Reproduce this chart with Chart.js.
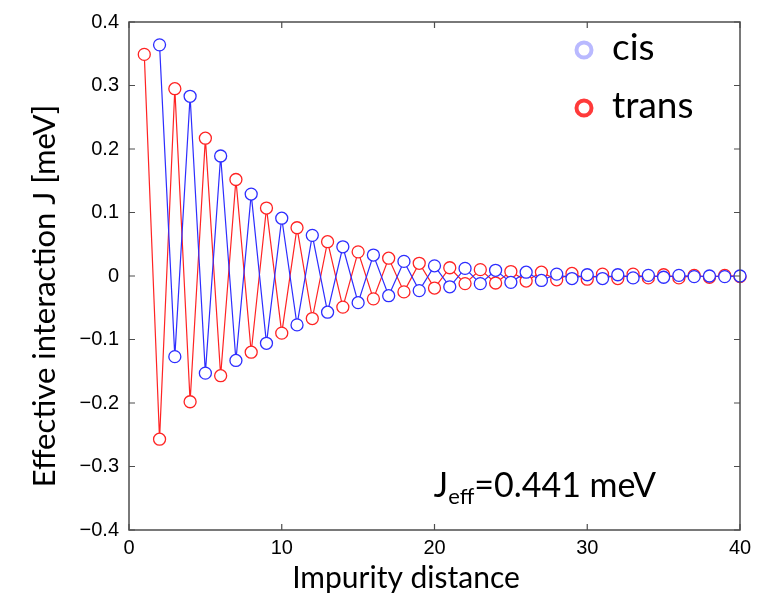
<!DOCTYPE html>
<html>
<head>
<meta charset="utf-8">
<title>Effective interaction vs impurity distance</title>
<script src="https://cdn.jsdelivr.net/npm/chart.js@4.4.1/dist/chart.umd.min.js"></script>
<style>
  html, body { margin: 0; padding: 0; background: #fff; }
  canvas { display: block; }
</style>
</head>
<body>
<canvas id="chart" width="767" height="601"></canvas>
<script>
// impurity distances (trans starts at 1, cis at 2)
const transDistance = [1, 2, 3, 4, 5, 6, 7, 8, 9, 10, 11, 12, 13, 14, 15, 16, 17, 18, 19, 20,
  21, 22, 23, 24, 25, 26, 27, 28, 29, 30, 31, 32, 33, 34, 35, 36, 37, 38, 39, 40];
const cisDistance = [2, 3, 4, 5, 6, 7, 8, 9, 10, 11, 12, 13, 14, 15, 16, 17, 18, 19, 20,
  21, 22, 23, 24, 25, 26, 27, 28, 29, 30, 31, 32, 33, 34, 35, 36, 37, 38, 39, 40];

// effective interaction J in meV
const transJ = [0.349, -0.257, 0.295, -0.198, 0.217, -0.157, 0.152, -0.120, 0.107, -0.090,
  0.076, -0.067, 0.054, -0.049, 0.038, -0.036, 0.028, -0.025, 0.020, -0.019,
  0.013, -0.012, 0.010, -0.011, 0.007, -0.008, 0.006, -0.006, 0.004, -0.005,
  0.003, -0.004, 0.003, -0.003, 0.002, -0.003, 0.001, -0.002, 0.001, -0.001];
const cisJ = [0.364, -0.127, 0.283, -0.153, 0.189, -0.133, 0.129, -0.106, 0.091,
  -0.077, 0.064, -0.057, 0.046, -0.042, 0.033, -0.031, 0.023, -0.023, 0.016,
  -0.017, 0.012, -0.012, 0.009, -0.010, 0.006, -0.007, 0.003, -0.004, 0.002,
  -0.004, 0.002, -0.003, 0.001, -0.002, 0.001, -0.001, 0.000, -0.001, 0.000];

const xTicks = [0, 10, 20, 30, 40];
const yTicks = [-0.4, -0.3, -0.2, -0.1, 0, 0.1, 0.2, 0.3, 0.4];

const xTitle = 'Impurity distance';
const yTitle = 'Effective interaction J [meV]';

const CIS_LINE = 'rgb(45,45,255)';
const TRANS_LINE = 'rgb(255,35,35)';

function toPoints(xs, ys) {
  return xs.map((x, i) => ({ x: x, y: ys[i] }));
}

function fmtTick(v) {
  if (Math.abs(v) < 1e-9) return '0';
  const s = Math.abs(v).toFixed(1);
  return v < 0 ? '\u2212' + s : s;
}

// matlab-like box with inward ticks, axis titles, legend and J_eff note
const framePlugin = {
  id: 'frame',
  afterDraw(chart) {
    const { ctx, chartArea: a, scales } = chart;
    const tick = 6;
    ctx.save();
    ctx.strokeStyle = '#4d4d4d';
    ctx.lineWidth = 1.5;
    ctx.strokeRect(a.left, a.top, a.right - a.left, a.bottom - a.top);
    ctx.lineWidth = 1.2;
    ctx.beginPath();
    xTicks.forEach(v => {
      const px = scales.x.getPixelForValue(v);
      ctx.moveTo(px, a.bottom); ctx.lineTo(px, a.bottom - tick);
      ctx.moveTo(px, a.top); ctx.lineTo(px, a.top + tick);
    });
    yTicks.forEach(v => {
      const py = scales.y.getPixelForValue(v);
      ctx.moveTo(a.left, py); ctx.lineTo(a.left + tick, py);
      ctx.moveTo(a.right, py); ctx.lineTo(a.right - tick, py);
    });
    ctx.stroke();

    // axis titles
    ctx.fillStyle = '#000';
    ctx.textAlign = 'center';
    ctx.textBaseline = 'middle';
    ctx.font = '30px Lato';
    ctx.fillText(xTitle, 406, 578);
    ctx.save();
    ctx.translate(45, 296);
    ctx.rotate(-Math.PI / 2);
    ctx.font = '31px Lato';
    ctx.fillText(yTitle, 0, 0);
    ctx.restore();

    // legend
    const items = [
      { label: chart.data.datasets[0].label, color: '#b9b9ff', y: 50 },
      { label: chart.data.datasets[1].label, color: '#ff3a3a', y: 108 }
    ];
    ctx.textAlign = 'left';
    ctx.font = '37px Lato';
    items.forEach(it => {
      ctx.beginPath();
      ctx.lineWidth = 4;
      ctx.strokeStyle = it.color;
      ctx.arc(584, it.y, 7.5, 0, Math.PI * 2);
      ctx.stroke();
      ctx.fillStyle = '#000';
      ctx.fillText(it.label, 612, it.y - 2);
    });

    // J_eff annotation, right edge near x = 656
    ctx.textBaseline = 'alphabetic';
    const base = 497;
    const big = '34px Lato', small = '22px Lato';
    ctx.font = big;
    const wJ = ctx.measureText('J').width;
    const wRest = ctx.measureText('=0.441 meV').width;
    ctx.font = small;
    const wSub = ctx.measureText('eff').width;
    let x = 656 - (wJ + wSub + wRest);
    ctx.font = big;
    ctx.fillText('J', x, base);
    x += wJ;
    ctx.font = small;
    ctx.fillText('eff', x, base + 7);
    x += wSub;
    ctx.font = big;
    ctx.fillText('=0.441 meV', x, base);
    ctx.restore();
  }
};

new Chart(document.getElementById('chart'), {
  type: 'scatter',
  data: {
    datasets: [
      {
        label: 'cis',
        data: toPoints(cisDistance, cisJ),
        showLine: true,
        borderColor: CIS_LINE,
        borderWidth: 1.2,
        pointRadius: 6,
        pointBorderWidth: 1.3,
        pointBorderColor: CIS_LINE,
        pointBackgroundColor: '#fff',
        clip: false,
        order: 0
      },
      {
        label: 'trans',
        data: toPoints(transDistance, transJ),
        showLine: true,
        borderColor: TRANS_LINE,
        borderWidth: 1.2,
        pointRadius: 6,
        pointBorderWidth: 1.3,
        pointBorderColor: TRANS_LINE,
        pointBackgroundColor: '#fff',
        clip: false,
        order: 1
      }
    ]
  },
  options: {
    responsive: false,
    animation: false,
    layout: { padding: { top: 16, right: 27, left: 0, bottom: 0 } },
    plugins: {
      legend: { display: false },
      tooltip: { enabled: false }
    },
    scales: {
      x: {
        type: 'linear',
        min: 0,
        max: 40,
        afterBuildTicks: s => { s.ticks = xTicks.map(v => ({ value: v })); },
        afterFit: s => { s.height = 71; },
        grid: { display: false, drawTicks: false },
        border: { display: false },
        ticks: {
          color: '#000',
          padding: 6,
          maxRotation: 0,
          font: { family: 'Liberation Sans', size: 20 }
        }
      },
      y: {
        type: 'linear',
        min: -0.4,
        max: 0.4,
        afterBuildTicks: s => { s.ticks = yTicks.map(v => ({ value: v })); },
        afterFit: s => { s.width = 129; },
        grid: { display: false, drawTicks: false },
        border: { display: false },
        ticks: {
          color: '#000',
          padding: 10,
          callback: v => fmtTick(v),
          font: { family: 'Liberation Sans', size: 20 }
        }
      }
    }
  },
  plugins: [framePlugin]
});
</script>
</body>
</html>
